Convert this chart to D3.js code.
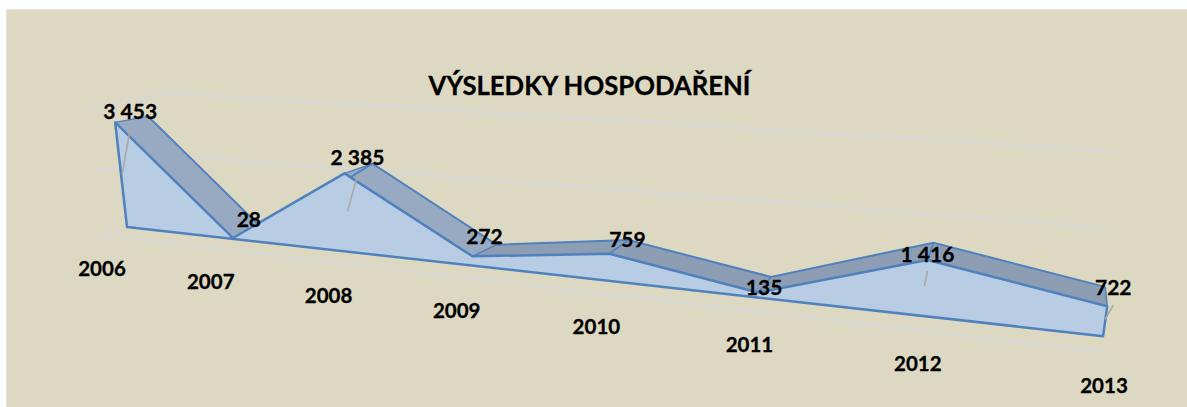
<!DOCTYPE html>
<html><head><meta charset="utf-8">
<script src="https://cdn.jsdelivr.net/npm/d3@7"></script>
<style>html,body{margin:0;padding:0;background:#fff}svg{display:block}
text{font-family:Lato,"Open Sans",sans-serif;font-weight:700;fill:#000;stroke:#000;stroke-width:0.3px}</style></head>
<body><div id="chart"></div>
<script>
const title = "VÝSLEDKY HOSPODAŘENÍ";
const years = ["2006","2007","2008","2009","2010","2011","2012","2013"];
const results = [3453,28,2385,272,759,135,1416,722];
const valueLabels = ["3 453","28","2 385","272","759","135","1 416","722"];
const gridValues = [2000,4000];
const leaderYears = ["2006","2008","2012","2013"];

const W=1187,H=407;
const svg=d3.select("#chart").append("svg").attr("width",W).attr("height",H);
svg.append("rect").attr("x",6).attr("y",9).attr("width",W-6).attr("height",H-9).attr("fill","#E4E3DC");
svg.append("rect").attr("x",7).attr("y",10).attr("width",W-7).attr("height",H-10).attr("fill","#DDD8C2");

// one-point perspective of the 3-D chart box
const K=0.0385;
const persp=i=>i/(1-K*i);
const n=years.length-1;
const xAxis=d3.scaleLinear().domain([0,persp(n)]).range([103,1105]);
const yFloor=d3.scaleLinear().domain([103,1105]).range([235,352]);
const yUnit=d3.scaleLinear().domain([0,1]).range([0,0.0303]);
const height=(i,v)=>yUnit(v)/(1-K*i);
const lean=i=>-0.113+0.0357*i;
const base=i=>{const x=xAxis(persp(i));return [x,yFloor(x)]};
const frontOff=i=>[24-2.7*persp(i),-8-0.82*persp(i)];
const backOff=i=>[33-1.5*i-0.5*i*i,-6-1.9*i];
const front=(i,v)=>{const [x,y]=base(i),[dx,dy]=frontOff(i),h=height(i,v);return [x+dx+lean(i)*h,y+dy-h]};
const back=(i,v)=>{const [x,y]=front(i,v),[dx,dy]=backOff(i);return [x+dx,y+dy]};
const wall=(i,v)=>{
  const [x,y]=base(i),t=i/n;
  const h=v*(0.03125+(0.0385-0.03125)*t);
  return [x+82-87*t+(-0.12+0.23*t)*h, y-17-30*t-h];
};
const side=(v)=>{const [x,y]=base(0),h=v*0.03125;return [x-0.136*h,y-h]};
const line=d3.line();
const gridStroke={stroke:"#D8D8D3","stroke-width":2.6,fill:"none"};
const g=svg.append("g");
const stroke=(s,o)=>{for(const k in o)s.attr(k,o[k]);return s};

// walls and floor
gridValues.forEach(v=>{
  stroke(g.append("path").attr("d",line([side(v),wall(0,v),wall(n,v)])),gridStroke);
});
stroke(g.append("path").attr("d",line([base(0),base(n)])),gridStroke);
stroke(g.append("path").attr("d",line([base(0),front(0,0)])),{...gridStroke,"stroke-width":1.5});
years.forEach((y,i)=>{
  const [x,yy]=base(i);
  stroke(g.append("path").attr("d",line([[x,yy],[x,yy+6]])),{...gridStroke,"stroke-width":1.5});
});

// ribbon on top of the area
const blue="#4F81BD";
results.slice(1).forEach((v,k)=>{
  const i=k+1,pv=results[k];
  g.append("path").attr("d",line([front(i-1,pv),back(i-1,pv),back(i,v),front(i,v)])+"Z")
   .attr("fill",i<4?"#98AAC2":"#8D9DB4").attr("stroke","none");
});
g.append("path").attr("d",line(results.map((v,i)=>back(i,v)))).attr("fill","none").attr("stroke",blue).attr("stroke-width",2);
results.forEach((v,i)=>{
  g.append("path").attr("d",line([front(i,v),back(i,v)])).attr("fill","none").attr("stroke",blue).attr("stroke-width",1.5);
});
// front face of the area
const outline=[...results.map((v,i)=>front(i,v)),front(n,0),front(0,0)];
g.append("path").attr("d",line(outline)+"Z").attr("fill","#B8CCE4").attr("stroke",blue).attr("stroke-width",2.5).attr("stroke-linejoin","round");

// leader lines
const leaderShape={"2006":[[15,6],[7,52]],"2008":[[13,2],[3,38]],"2012":[[0,11],[-3,26]],"2013":[[6,-1],[-2,13]]};
leaderYears.forEach(y=>{
  const i=years.indexOf(y),[x,yy]=front(i,results[i]);
  g.append("path").attr("d",line(leaderShape[y].map(o=>[x+o[0],yy+o[1]]))).attr("stroke","#A9A9A5").attr("stroke-width",1.6).attr("fill","none");
});

// labels
const labelOff=[[15,-11],[16,-18],[13,-16],[12,-20],[18,-14],[6,-5],[0,-5],[6,-19]];
valueLabels.forEach((t,i)=>{
  const [x,y]=front(i,results[i]);
  svg.append("text").attr("x",x+labelOff[i][0]).attr("y",y+labelOff[i][1]).attr("dy","0.35em")
    .attr("text-anchor","middle").attr("font-size",21).text(t);
});
years.forEach((t,i)=>{
  const [x,y]=base(i);
  svg.append("text").attr("x",x-1).attr("y",y+34).attr("dy","0.35em").attr("text-anchor","middle").attr("font-size",20.5).text(t);
});
svg.append("text").attr("x",589.5).attr("y",86).attr("dy","0.35em").attr("text-anchor","middle").attr("font-size",25.7).text(title);
</script></body></html>
